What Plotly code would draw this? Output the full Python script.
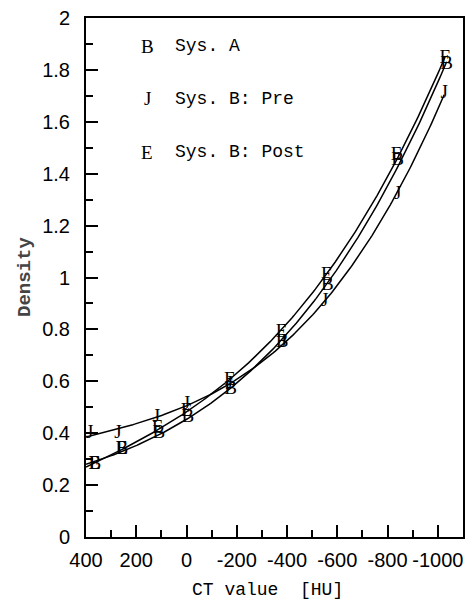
import numpy as np
import plotly.graph_objects as go

# ---- data ----
hu_sys_a = [365, 257, 110, -5, -175, -380, -560, -840, -1035]
dens_sys_a = [0.28, 0.34, 0.40, 0.46, 0.57, 0.75, 0.97, 1.45, 1.82]

hu_pre = [385, 273, 120, 0, -170, -385, -550, -840, -1025]
dens_pre = [0.40, 0.40, 0.46, 0.51, 0.59, 0.75, 0.91, 1.32, 1.71]

hu_post = [365, 257, 115, 0, -172, -378, -558, -836, -1030]
dens_post = [0.28, 0.34, 0.42, 0.485, 0.605, 0.79, 1.01, 1.47, 1.845]

series_names = ["Sys. A", "Sys. B: Pre", "Sys. B: Post"]
series_symbols = ["B", "J", "E"]

x_ticks = [400, 200, 0, -200, -400, -600, -800, -1000]
y_ticks = [0, 0.2, 0.4, 0.6, 0.8, 1, 1.2, 1.4, 1.6, 1.8, 2]
y_ticktext = ["0", "0.2", "0.4", "0.6", "0.8", "1", "1.2", "1.4", "1.6", "1.8", "2"]

# ---- layout geometry (page px) ----
W, H = 466, 603
X0, X1, Y0, Y1 = 86, 463, 18, 537          # plot area in page pixels
L, T, R, B = X0, Y0, W - X1, H - Y1


def px_to_paper(px, py):
    return (px - X0) / (X1 - X0), (Y1 - py) / (Y1 - Y0)


fig = go.Figure()

data = [(hu_sys_a, dens_sys_a), (hu_pre, dens_pre), (hu_post, dens_post)]
for (x, y), sym, name in zip(data, series_symbols, series_names):
    coef = np.polyfit(x, y, 3)
    xs = np.linspace(400, min(x), 200)
    fig.add_trace(go.Scatter(
        x=xs, y=np.polyval(coef, xs), mode="lines",
        line=dict(color="black", width=1.5),
        showlegend=False, hoverinfo="skip"))
    fig.add_trace(go.Scatter(
        x=x, y=y, mode="text", text=[sym] * len(x), name=name,
        textposition="middle center",
        textfont=dict(family="Liberation Serif", size=19, color="black"),
        showlegend=False, cliponaxis=False))

mono = "Liberation Mono"
tickfont = dict(family="Liberation Sans", size=20, color="black")

fig.update_xaxes(
    range=[400, -1100], tickmode="array", tickvals=x_ticks,
    ticktext=[str(v) for v in x_ticks], tickangle=0,
    ticks="inside", ticklen=12, tickwidth=2, tickcolor="black",
    minor=dict(dtick=100, tick0=0, ticks="inside", ticklen=7,
               tickwidth=2, tickcolor="black"),
    showline=True, linewidth=2, linecolor="black", mirror=True,
    showgrid=False, zeroline=False, tickfont=tickfont,
    ticklabelstandoff=4, automargin=False, ticklabeloverflow="allow")
fig.update_yaxes(
    range=[0, 2], tickmode="array", tickvals=y_ticks, ticktext=y_ticktext,
    ticks="inside", ticklen=12, tickwidth=2, tickcolor="black",
    minor=dict(dtick=0.1, tick0=0, ticks="inside", ticklen=7,
               tickwidth=2, tickcolor="black"),
    showline=True, linewidth=2, linecolor="black", mirror=True,
    showgrid=False, zeroline=False, tickfont=tickfont,
    ticklabelstandoff=10, automargin=False, ticklabeloverflow="allow")

annotations = []
# legend
for i, (sym, name) in enumerate(zip(series_symbols, series_names)):
    py = 46 + i * 53
    sx, sy = px_to_paper(147, py)
    tx, _ = px_to_paper(173, py)
    annotations.append(dict(x=sx, y=sy, xref="paper", yref="paper", text=sym,
                            showarrow=False, xanchor="center", yanchor="middle",
                            font=dict(family="Liberation Serif", size=19, color="black")))
    annotations.append(dict(x=tx, y=sy, xref="paper", yref="paper", text=name,
                            showarrow=False, xanchor="left", yanchor="middle",
                            font=dict(family=mono, size=18, color="black")))

# axis titles
ax, ay = px_to_paper(267, 590)
annotations.append(dict(x=ax, y=ay, xref="paper", yref="paper",
                        text="CT value  [HU]", showarrow=False,
                        xanchor="center", yanchor="middle",
                        font=dict(family=mono, size=18, color="black")))
bx, by = px_to_paper(25, 277)
annotations.append(dict(x=bx, y=by, xref="paper", yref="paper",
                        text="<b>Density</b>", showarrow=False, textangle=-90,
                        xanchor="center", yanchor="middle",
                        font=dict(family=mono, size=19, color="#444444")))

fig.update_layout(
    width=W, height=H, margin=dict(l=L, r=R, t=T, b=B, autoexpand=False),
    paper_bgcolor="white", plot_bgcolor="white",
    annotations=annotations, showlegend=False)

fig.write_html(
    "out.html",
    config={"displayModeBar": False},
    post_script="document.body.style.margin='0px';"
                "document.body.style.overflow='hidden';")
